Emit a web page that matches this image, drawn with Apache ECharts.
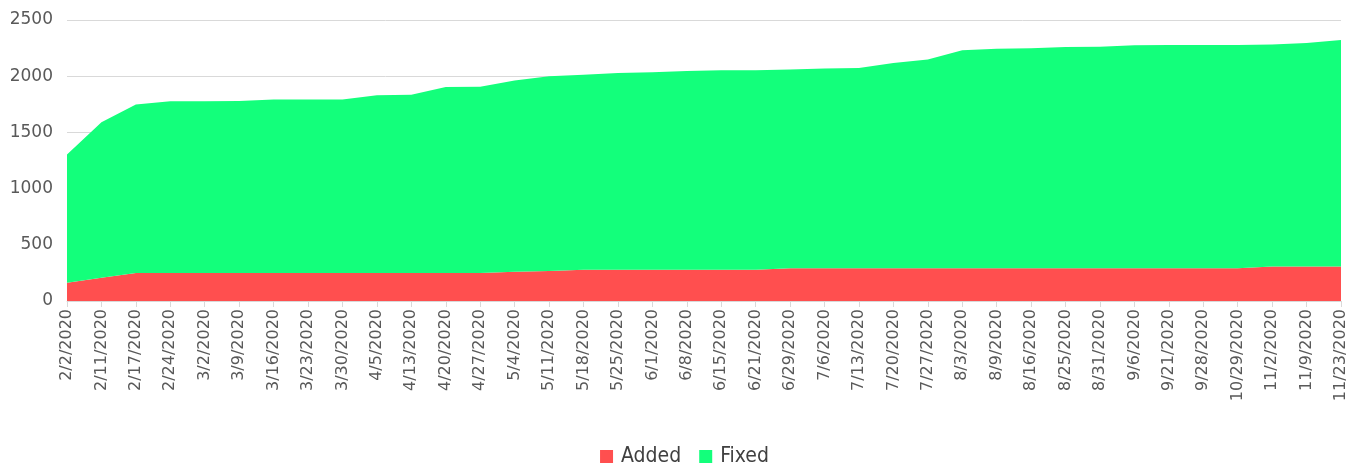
<!DOCTYPE html>
<html>
<head>
<meta charset="utf-8">
<script src="https://cdn.jsdelivr.net/npm/echarts@6/dist/echarts.min.js"></script>
<style>
html,body{margin:0;padding:0;background:#fff;}
#chart{width:1369px;height:469px;}
</style>
</head>
<body>
<div id="chart"></div>
<script>
const categories = ["2/2/2020","2/11/2020","2/17/2020","2/24/2020","3/2/2020","3/9/2020","3/16/2020","3/23/2020","3/30/2020","4/5/2020","4/13/2020","4/20/2020","4/27/2020","5/4/2020","5/11/2020","5/18/2020","5/25/2020","6/1/2020","6/8/2020","6/15/2020","6/21/2020","6/29/2020","7/6/2020","7/13/2020","7/20/2020","7/27/2020","8/3/2020","8/9/2020","8/16/2020","8/25/2020","8/31/2020","9/6/2020","9/21/2020","9/28/2020","10/29/2020","11/2/2020","11/9/2020","11/23/2020"];
const added = [163,207,250,250,250,250,250,250,250,250,250,250,250,260,266,277,277,277,277,277,277,292,292,292,292,292,292,292,292,292,292,292,292,292,292,307,307,307];
const fixed = [1140,1384,1498,1527,1527,1530,1542,1542,1542,1581,1584,1655,1657,1701,1733,1737,1752,1758,1770,1776,1776,1767,1776,1781,1826,1856,1938,1953,1956,1968,1971,1983,1986,1986,1986,1974,1989,2015];
const yTicks = [0,500,1000,1500,2000,2500];

const chart = echarts.init(document.getElementById('chart'), null, {renderer:'canvas'});
const font = 'DejaVu Sans';
chart.setOption({
  animation: false,
  grid: {left: 67, right: 28, top: 20, bottom: 168, containLabel: false},
  legend: {
    data: ['Added','Fixed'],
    top: 441,
    left: 'center',
    icon: 'rect',
    itemWidth: 13, itemHeight: 13, itemGap: 18,
    textStyle: {fontFamily: 'DejaVu Sans Condensed', fontSize: 21, color: '#404040', padding: [0,0,0,3]}
  },
  xAxis: {
    type: 'category',
    data: categories,
    boundaryGap: false,
    axisLine: {lineStyle: {color: '#d9d9d9'}},
    axisTick: {show: true, alignWithLabel: true, length: 6, lineStyle: {color: '#d9d9d9'}},
    axisLabel: {rotate: 90, interval: 0, margin: 8, fontFamily: font, fontSize: 16, color: '#595959'},
    splitLine: {show: false}
  },
  yAxis: {
    type: 'value',
    min: yTicks[0], max: yTicks[yTicks.length-1], interval: 500,
    axisLine: {show: false},
    axisTick: {show: false},
    axisLabel: {margin: 14, fontFamily: font, fontSize: 17, color: '#595959', formatter: function (v) { return String(v); }},
    splitLine: {lineStyle: {color: '#d9d9d9', width: 1}}
  },
  series: [
    {name: 'Added', type: 'line', stack: 'total', data: added, showSymbol: false, symbol: 'none',
     lineStyle: {width: 0}, itemStyle: {color: '#FF4F4F'}, areaStyle: {color: '#FF4F4F', opacity: 1}},
    {name: 'Fixed', type: 'line', stack: 'total', data: fixed, showSymbol: false, symbol: 'none',
     lineStyle: {width: 0}, itemStyle: {color: '#13FF7B'}, areaStyle: {color: '#13FF7B', opacity: 1}}
  ]
});
</script>
</body>
</html>
